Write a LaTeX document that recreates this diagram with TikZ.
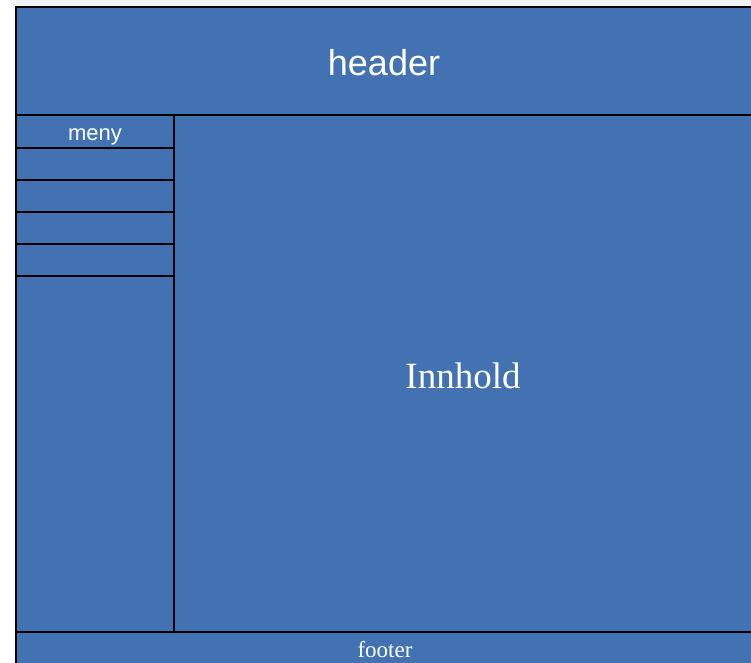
\documentclass[tikz,border=0pt]{standalone}
\usepackage{fontspec}
\setmainfont{Liberation Serif}
\newfontfamily\arialf{Liberation Sans}
\definecolor{boxblue}{RGB}{67,114,179}
\definecolor{topgray}{RGB}{240,242,246}
\begin{document}
\begin{tikzpicture}[x=1pt,y=-1pt,
  panel/.style={draw=black,line width=1.6pt,fill=boxblue},
  lbl/.style={text=white,inner sep=0pt,anchor=base}]
\useasboundingbox (0,0) rectangle (751,662);
\fill[white] (0,0) rectangle (751,662);
\fill[topgray] (16,0) rectangle (751,7);
\begin{scope}
\clip (0,0) rectangle (751,662);
\draw[panel] (16,7) rectangle (760,115);
\draw[panel] (174,115) rectangle (760,632);
\draw[panel] (16,115) rectangle (174,148);
\draw[panel] (16,148) rectangle (174,180);
\draw[panel] (16,180) rectangle (174,212);
\draw[panel] (16,212) rectangle (174,244);
\draw[panel] (16,244) rectangle (174,276);
\draw[panel] (16,276) rectangle (174,632);
\draw[panel] (16,632) rectangle (760,680);
\end{scope}
\coordinate (hdr) at (384,75);
\coordinate (mny) at (95,140);
\coordinate (inn) at (463,388);
\coordinate (ftr) at (385,657);
\node[lbl,font=\arialf\fontsize{36}{40}\selectfont] (header) at (hdr) {header};
\node[lbl,font=\arialf\fontsize{22}{26}\selectfont] (meny) at (mny) {meny};
\node[lbl,font=\fontsize{37}{42}\selectfont] (innhold) at (inn) {Innhold};
\node[lbl,font=\fontsize{23}{27}\selectfont] (footer) at (ftr) {footer};
\end{tikzpicture}
\end{document}
